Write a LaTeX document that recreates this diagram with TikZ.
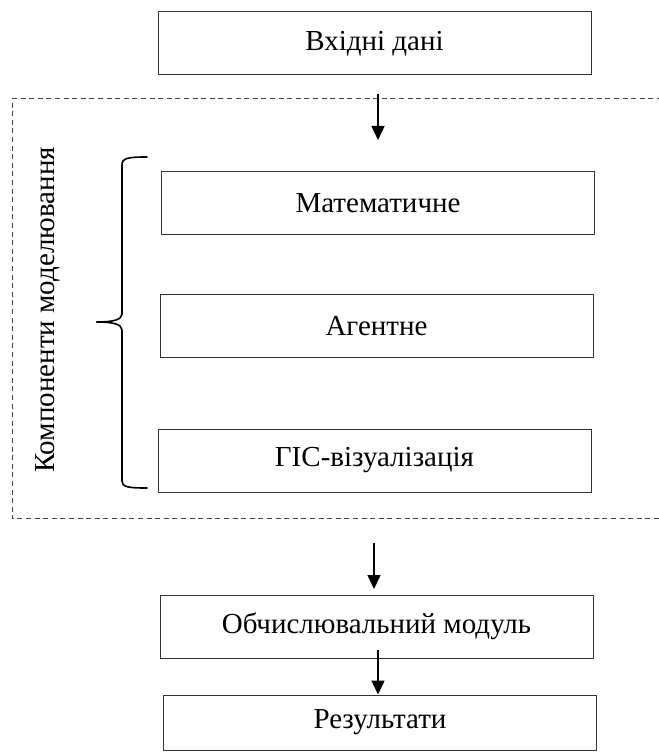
\documentclass[tikz,border=0pt]{standalone}
\usepackage{fontspec}
\setmainfont{Liberation Serif}
\usetikzlibrary{arrows.meta}
\begin{document}
\begin{tikzpicture}[x=0.5pt,y=-0.5pt,
  box/.style={draw=black!80,line width=0.5pt,rectangle,minimum width=216.5pt,minimum height=31.5pt,inner sep=0pt,font=\fontsize{14.5}{17}\selectfont},
  arr/.style={line width=0.75pt,-{Triangle[length=7pt,width=6.5pt]}},
  frame/.style={draw=black!75,line width=0.5pt,dash pattern=on 2.5pt off 1.8pt},
  bracestyle/.style={line width=0.8pt,line cap=round}]
\useasboundingbox (0,0) rectangle (658,753);
% boxes
\node[box] (inp) at (374.5,43.5) {Вхідні дані};
\node[box] (math) at (378,203.5) {Математичне};
\node[box] (agent) at (376.5,326) {Агентне};
\node[box] (gis) at (374.5,460.5) {ГІС-візуалізація};
\node[box] (comp) at (376.5,626.5) {Обчислювальний модуль};
\node[box,minimum height=27.5pt] (res) at (380,722.5) {Результати};
% dashed frame
\coordinate (ftr) at (662,99);
\coordinate (ftl) at (12,99);
\coordinate (fbl) at (12,518.5);
\coordinate (fbr) at (662,518.5);
\draw[frame] (ftr) -- (ftl) -- (fbl) -- (fbr);
% vertical label
\node[rotate=90,font=\fontsize{14.5}{17}\selectfont,inner sep=0pt] (lbl) at (47.5,310) {Компоненти моделювання};
% brace
\coordinate (bt) at (147,157);
\coordinate (bm) at (97,322);
\coordinate (bb) at (147,488);
\draw[bracestyle] (bt) .. controls (128,157) and (122,158) .. (122,165) -- (122,314) .. controls (122,320) and (112,322) .. (bm);
\draw[bracestyle] (bm) .. controls (112,322) and (122,324) .. (122,330) -- (122,481) .. controls (122,487) and (128,488) .. (bb);
% arrows
\coordinate (a1s) at (378,94);
\coordinate (a1e) at (378,140);
\coordinate (a2s) at (374,543);
\coordinate (a2e) at (374,589);
\coordinate (a3s) at (378,650);
\draw[arr] (a1s) -- (a1e);
\draw[arr] (a2s) -- (a2e);
\draw[arr] (a3s) -- (res.north -| a3s);
\end{tikzpicture}
\end{document}
